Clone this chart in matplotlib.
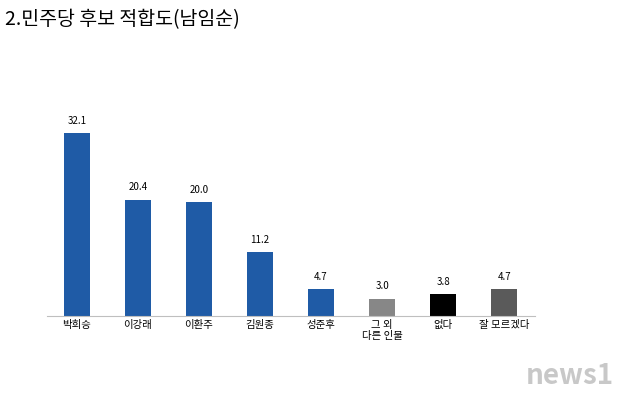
import matplotlib
matplotlib.use("Agg")
import matplotlib.pyplot as plt

plt.rcParams['font.family'] = ['Noto Sans CJK KR', 'DejaVu Sans']

categories = ["박희승", "이강래", "이환주", "김원종", "성준후", "그 외\n다른 인물", "없다", "잘 모르겠다"]
values = [32.1, 20.4, 20.0, 11.2, 4.7, 3.0, 3.8, 4.7]
colors = ["#1f5ba6"] * 5 + ["#878787", "#000000", "#5a5a5a"]

fig = plt.figure(figsize=(6.33, 4.13), dpi=100)
ax = fig.add_axes([0.0735, 0.235, 0.771, 0.62])
x = range(len(categories))
ax.bar(x, values, width=0.44, color=colors)
for i, v in zip(x, values):
    ax.text(i, v + 1.3, f"{v:.1f}", ha="center", va="bottom", fontsize=7)
ax.set_xlim(-0.5, 7.5)
ax.set_ylim(0, 45)
ax.set_xticks(list(x))
ax.set_xticklabels(categories, fontsize=7.5, linespacing=1.1)
ax.tick_params(axis='x', length=0, pad=3)
ax.set_yticks([])
for s in ["top", "right", "left"]:
    ax.spines[s].set_visible(False)
ax.spines["bottom"].set_color("#bfbfbf")

fig.text(0.008, 0.953, "2.민주당 후보 적합도(남임순)", fontsize=14, va="center", ha="left")
fig.text(0.97, 0.09, "news1", fontsize=20, color="#c8c8c8", ha="right", va="center", style="italic", fontweight="bold")
fig.savefig("out.png", dpi=100)
